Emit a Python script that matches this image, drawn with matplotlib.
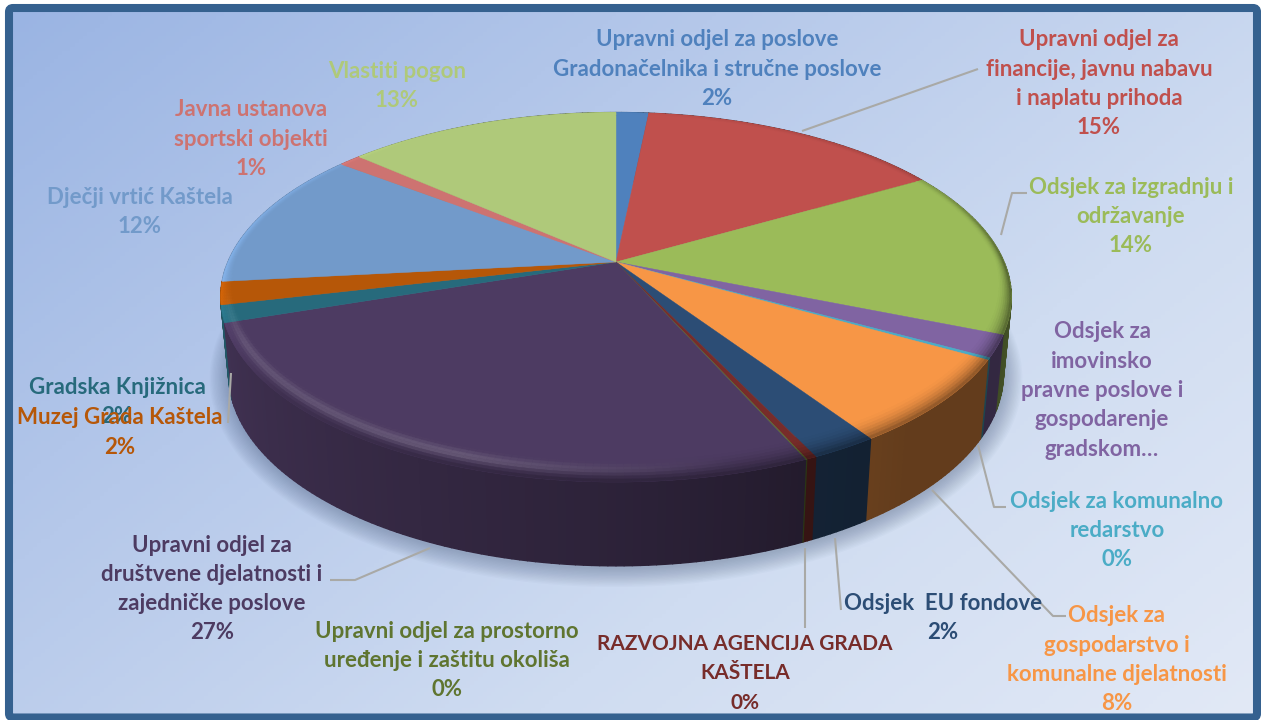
import numpy as np
import matplotlib
matplotlib.use("Agg")
import matplotlib.pyplot as plt
from matplotlib.collections import PolyCollection
from matplotlib.colors import to_rgb, LinearSegmentedColormap
from matplotlib.patches import FancyBboxPatch, Polygon

plt.rcParams['font.family'] = ['Lato', 'DejaVu Sans']

# ---------- data ----------
categories = [
    "Upravni odjel za poslove\nGradonačelnika i stručne poslove",
    "Upravni odjel za\nfinancije, javnu nabavu\ni naplatu prihoda",
    "Odsjek za izgradnju i\nodržavanje",
    "Odsjek za\nimovinsko\npravne poslove i\ngospodarenje\ngradskom…",
    "Odsjek za komunalno\nredarstvo",
    "Odsjek za\ngospodarstvo i\nkomunalne djelatnosti",
    "Odsjek  EU fondove",
    "RAZVOJNA AGENCIJA GRADA\nKAŠTELA",
    "Upravni odjel za prostorno\nuređenje i zaštitu okoliša",
    "Upravni odjel za\ndruštvene djelatnosti i\nzajedničke poslove",
    "Gradska Knjižnica",
    "Muzej Grada Kaštela",
    "Dječji vrtić Kaštela",
    "Javna ustanova\nsportski objekti",
    "Vlastiti pogon",
]
values = [1.6, 15.0, 14.6, 1.9, 0.2, 7.4, 2.3, 0.35, 0.05, 26.4, 1.5, 2.0, 12.2, 1.1, 13.4]
percent_labels = ["2%", "15%", "14%", "", "0%", "8%", "2%", "0%", "0%", "27%", "2%", "2%", "12%", "1%", "13%"]
colors = ["#4f81bd", "#c0504d", "#9bbb59", "#8064a2", "#4bacc6", "#f79646", "#2c4d75", "#772c2a",
          "#5f7530", "#4d3b62", "#276a7c", "#b65708", "#729aca", "#cd7371", "#afc97a"]
label_sizes = [16, 16, 16, 16, 16, 16, 16, 15, 16, 16, 16, 16, 16, 16, 16]
label_centers = [(717, 40), (1099, 40), (1131, 187), (1102, 332), (1117, 501), (1117, 616), (943, 603),
                 (745, 644), (447, 631), (212, 545), (117, 387), (120, 418), (140, 197), (251, 110), (397, 71)]
leaders = [
    [(802, 131), (978, 69)],
    [(1001, 235), (1012, 193), (1027, 193)],
    [(978, 445), (994, 507), (1006, 507)],
    [(932, 490), (1053, 616), (1066, 616)],
    [(835, 538), (841, 610)],
    [(805, 548), (805, 628)],
    [(430, 548), (355, 580), (330, 580)],
    [(231, 373), (228, 423)],
]

# ---------- projection of the disc ----------
CX, CY, A, B, K = 616.0, 262.0, 388.0, 178.0, 0.191
BOT_CY, BOT_SX, BOT_SY = 337.0, 0.98, 1.04


def top_pt(th, r=1.0):
    x, y = r * np.sin(th), r * np.cos(th)
    w = 1 + K * y
    return CX + A * x / w, CY - B * y / w


def bot_pt(th):
    x, y = np.sin(th), np.cos(th)
    w = 1 + K * y
    return CX + BOT_SX * A * x / w, BOT_CY - BOT_SY * B * y / w


def bevel_width(th):
    return 0.023 + 0.067 * np.maximum(0, -np.cos(th))


def side_factor(deg):
    return np.interp(deg, [0, 90, 115, 140, 155, 180, 250, 300, 360],
                     [.5, .5, .40, .40, .45, .58, .83, .85, .5])


def highlight(deg):
    return np.interp(deg, [165, 200, 245, 262, 320], [0, .17, .13, 0, 0])


def edge_factor(deg):
    return np.interp(deg, [0, 60, 90, 185, 230, 255, 265, 300, 325, 360],
                     [1, .85, .5, .6, .8, 1.18, 1.18, 1.1, 1.0, 1.0])


def shade(rgb, f):
    c = np.array(rgb, dtype=float)
    return tuple(np.clip(c * f, 0, 1))


def lift(rgb, f):
    c = np.array(rgb, dtype=float)
    return tuple(np.clip(c + (1 - c) * f, 0, 1))


fig = plt.figure(figsize=(12.61, 7.2), dpi=100, facecolor="white")
ax = fig.add_axes([0, 0, 1, 1])
ax.set_xlim(0, 1261)
ax.set_ylim(720, 0)
ax.axis("off")

# ---------- background and frame ----------
gx, gy = np.meshgrid(np.linspace(0, 1, 300), np.linspace(0, 1, 180))
cmap = LinearSegmentedColormap.from_list("bg", ["#9ab4e3", "#b5c8ea", "#cfdcf1", "#e2e9f6"])
ax.imshow(0.58 * gx + 0.42 * gy, extent=(8, 1257, 716, 8), cmap=cmap, vmin=0, vmax=1,
          aspect="auto", zorder=0)
ax.set_xlim(0, 1261)
ax.set_ylim(720, 0)
ax.add_patch(FancyBboxPatch((9, 8), 1248, 709.5, boxstyle="round,pad=0,rounding_size=4",
                            fc="none", ec="#35618f", lw=5.8, zorder=1))

# ---------- soft shadow ----------
full = np.radians(np.linspace(0, 360, 241))
bx, by = bot_pt(full)
for i in range(14, 0, -1):
    sc = 1 + i * 0.0035
    sx = CX + (bx - CX) * sc
    sy = BOT_CY + 2 + (by - BOT_CY) * (1 + i * 0.006)
    ax.add_patch(Polygon(np.column_stack([sx, sy]), fc="#3c4f72", ec="none", alpha=0.028, zorder=2))

# ---------- slices ----------
edges = np.cumsum([0.0] + values) / sum(values) * 360.0
side_q, side_c, side_k = [], [], []
bev_q, bev_c = [], []
levels = np.linspace(0, 1, 9)
for i, col in enumerate(colors):
    rgb = to_rgb(col)
    n = max(2, int(np.ceil(edges[i + 1] - edges[i])) + 1)
    deg = np.linspace(edges[i], edges[i + 1], n)
    th = np.radians(deg)
    tx, ty = top_pt(th)
    ax.add_patch(Polygon(np.column_stack([np.r_[CX, tx], np.r_[CY, ty]]), fc=col, ec=col, lw=0.3, zorder=4))
    bx, by = bot_pt(th)
    for j in range(n - 1):
        mid = 0.5 * (deg[j] + deg[j + 1])
        side_q.append([(tx[j], ty[j]), (tx[j + 1], ty[j + 1]), (bx[j + 1], by[j + 1]), (bx[j], by[j])])
        side_c.append(shade(rgb, side_factor(mid)))
        side_k.append(np.cos(np.radians(mid)))
        w0, w1 = bevel_width(th[j]), bevel_width(th[j + 1])
        for a, b in zip(levels[:-1], levels[1:]):
            xa0, ya0 = top_pt(th[j], 1 - w0 * (1 - a))
            xa1, ya1 = top_pt(th[j + 1], 1 - w1 * (1 - a))
            xb0, yb0 = top_pt(th[j], 1 - w0 * (1 - b))
            xb1, yb1 = top_pt(th[j + 1], 1 - w1 * (1 - b))
            t = 0.5 * (a + b)
            fe = edge_factor(mid)
            f = (1 - t ** 2) + t ** 2 * fe
            c = lift(shade(rgb, f), highlight(mid) * np.sin(np.pi * t) ** 4)
            bev_q.append([(xa0, ya0), (xa1, ya1), (xb1, yb1), (xb0, yb0)])
            bev_c.append(c)

order = np.argsort(side_k)[::-1]
ax.add_collection(PolyCollection([side_q[o] for o in order], facecolors=[side_c[o] for o in order],
                                 edgecolors=[side_c[o] for o in order], linewidths=1.0, zorder=3))
ax.add_collection(PolyCollection(bev_q, facecolors=bev_c, edgecolors=bev_c, linewidths=0.3, zorder=5))

# ---------- leaders and labels ----------
for pts in leaders:
    p = np.array(pts)
    ax.plot(p[:, 0], p[:, 1], color="#a9a9a6", lw=1.5, solid_capstyle="butt", zorder=6)

LINE = 29.3
for name, pct, (x, y), col, fs in zip(categories, percent_labels, label_centers, colors, label_sizes):
    lines = name.split("\n") + ([pct] if pct else [])
    for k, line in enumerate(lines):
        ax.text(x, y + k * LINE, line, color=col, fontsize=fs, fontweight="bold",
                ha="center", va="center", zorder=7)

fig.savefig("out.png", dpi=100, facecolor="white")
